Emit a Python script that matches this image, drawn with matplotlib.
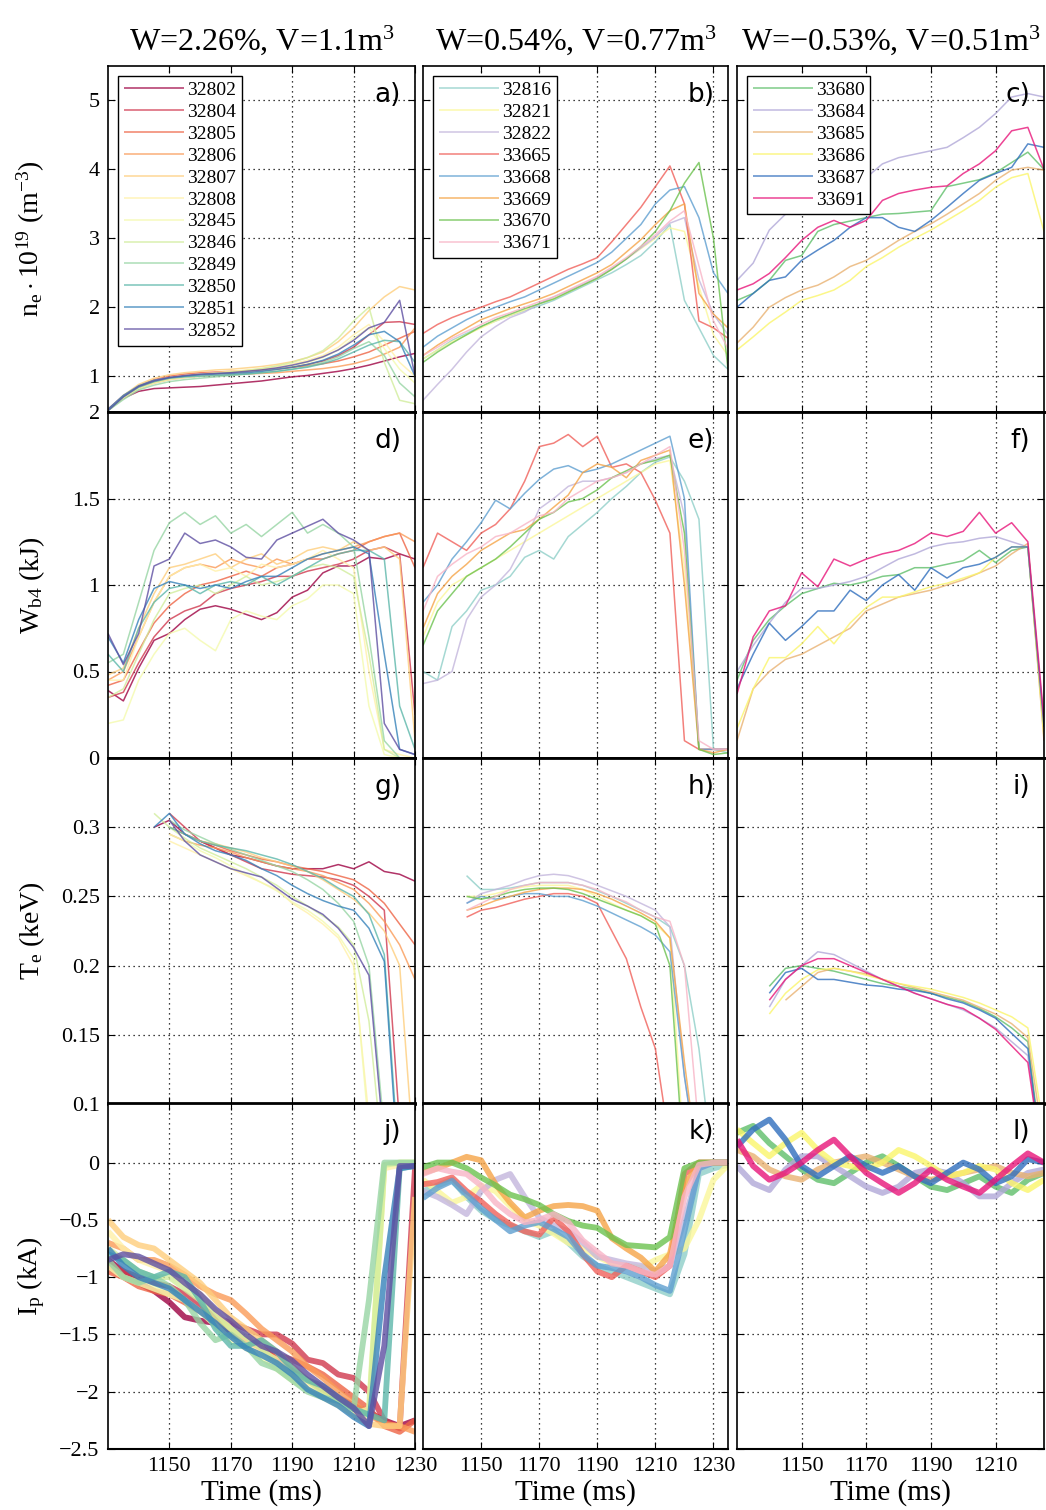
import numpy as np
import matplotlib
matplotlib.use('Agg')
import matplotlib.pyplot as plt

nan = np.nan

# ---------------- data ----------------
T1 = [1130, 1135, 1140, 1145, 1150, 1155, 1160, 1165, 1170, 1175, 1180,
      1185, 1190, 1195, 1200, 1205, 1210, 1215, 1220, 1225, 1230]
T2 = T1 + [1235]
T3 = T1[:-1]

SHOTS_1 = ['32802', '32804', '32805', '32806', '32807', '32808',
           '32845', '32846', '32849', '32850', '32851', '32852']
SHOTS_2 = ['32816', '32821', '32822', '33665', '33668', '33669', '33670', '33671']
SHOTS_3 = ['33680', '33684', '33685', '33686', '33687', '33691']

TITLES = ['W=2.26%, V=1.1m$^3$', 'W=0.54%, V=0.77m$^3$', 'W=\u22120.53%, V=0.51m$^3$']

# column 1: density, Wb4, Te, Ip
NE_1 = [
    [0.52, 0.68, 0.78, 0.82, 0.83, 0.84, 0.85, 0.87, 0.89, 0.91, 0.93, 0.96, 0.99, 1.01, 1.04, 1.07, 1.11, 1.16, 1.22, 1.28, 1.33],
    [0.52, 0.72, 0.85, 0.92, 0.97, 1.00, 1.02, 1.03, 1.05, 1.06, 1.08, 1.10, 1.13, 1.17, 1.22, 1.30, 1.42, 1.60, 1.78, 1.79, 1.75],
    [0.50, 0.70, 0.86, 0.95, 1.00, 1.03, 1.05, 1.06, 1.07, 1.08, 1.09, 1.11, 1.13, 1.15, 1.18, 1.22, 1.28, 1.35, 1.45, 1.55, 1.65],
    [0.50, 0.68, 0.82, 0.90, 0.95, 0.98, 1.00, 1.01, 1.02, 1.03, 1.04, 1.05, 1.07, 1.09, 1.11, 1.14, 1.18, 1.24, 1.32, 1.42, 1.70],
    [0.50, 0.72, 0.88, 0.97, 1.02, 1.05, 1.07, 1.09, 1.10, 1.12, 1.14, 1.17, 1.21, 1.27, 1.35, 1.50, 1.70, 1.95, 2.15, 2.30, 2.25],
    [0.50, 0.70, 0.85, 0.93, 0.98, 1.01, 1.03, 1.05, 1.07, 1.09, 1.11, 1.14, 1.18, 1.23, 1.30, 1.42, 1.60, 1.75, 1.50, 1.20, 1.00],
    [0.50, 0.68, 0.82, 0.90, 0.95, 0.98, 1.00, 1.02, 1.04, 1.06, 1.08, 1.11, 1.15, 1.20, 1.27, 1.38, 1.55, 1.70, 1.40, 1.10, 0.90],
    [0.50, 0.70, 0.84, 0.92, 0.97, 1.00, 1.02, 1.04, 1.06, 1.08, 1.11, 1.15, 1.20, 1.27, 1.37, 1.55, 1.80, 2.00, 1.20, 0.65, 0.60],
    [0.50, 0.66, 0.80, 0.87, 0.92, 0.95, 0.97, 0.99, 1.01, 1.03, 1.05, 1.07, 1.10, 1.14, 1.20, 1.28, 1.40, 1.50, 1.30, 0.90, 0.70],
    [0.50, 0.70, 0.84, 0.92, 0.97, 0.99, 1.00, 1.01, 1.02, 1.03, 1.05, 1.07, 1.10, 1.13, 1.18, 1.25, 1.35, 1.45, 1.52, 1.50, 1.20],
    [0.52, 0.72, 0.86, 0.94, 0.98, 1.00, 1.02, 1.03, 1.04, 1.05, 1.07, 1.10, 1.13, 1.17, 1.23, 1.32, 1.45, 1.60, 1.65, 1.50, 1.00],
    [0.50, 0.70, 0.85, 0.93, 0.98, 1.01, 1.03, 1.04, 1.05, 1.07, 1.09, 1.12, 1.16, 1.21, 1.28, 1.38, 1.52, 1.70, 1.78, 2.10, 1.00],
]
WB_1 = [
    [0.39, 0.33, 0.52, 0.68, 0.72, 0.80, 0.86, 0.88, 0.86, 0.83, 0.80, 0.84, 0.93, 0.97, 1.07, 1.11, 1.11, 1.16, 1.15, 1.18, 1.15],
    [0.35, 0.38, 0.55, 0.70, 0.80, 0.85, 0.88, 0.95, 0.98, 1.00, 1.02, 1.05, 1.05, 1.08, 1.10, 1.12, 1.15, 1.20, 1.22, 1.18, 0.25],
    [0.42, 0.45, 0.62, 0.78, 0.88, 0.95, 1.00, 1.02, 1.05, 1.08, 1.05, 1.10, 1.12, 1.15, 1.15, 1.18, 1.20, 1.25, 1.28, 1.30, 1.10],
    [0.45, 0.50, 0.70, 0.90, 1.05, 1.10, 1.12, 1.10, 1.15, 1.12, 1.10, 1.15, 1.12, 1.15, 1.18, 1.20, 1.22, 1.25, 1.28, 1.30, 1.25],
    [0.48, 0.52, 0.75, 0.95, 1.10, 1.12, 1.15, 1.18, 1.10, 1.15, 1.18, 1.12, 1.15, 1.20, 1.22, 1.20, 1.25, 1.20, 1.22, 1.15, 0.10],
    [0.45, 0.45, 0.70, 0.90, 1.05, 1.10, 1.12, 1.08, 1.10, 1.05, 1.12, 1.10, 1.12, 1.15, 1.20, 1.15, 1.10, 0.50, 0.05, 0.02, 0.00],
    [0.20, 0.22, 0.45, 0.60, 0.72, 0.75, 0.68, 0.62, 0.80, 0.85, 0.82, 0.80, 0.88, 0.92, 1.00, 1.00, 0.95, 0.30, 0.02, 0.00, 0.00],
    [0.35, 0.40, 0.60, 0.80, 0.95, 0.98, 1.00, 0.95, 1.00, 1.05, 1.00, 1.02, 1.05, 1.10, 1.12, 1.10, 1.05, 0.60, 0.05, 0.00, 0.00],
    [0.55, 0.60, 0.90, 1.20, 1.36, 1.42, 1.35, 1.40, 1.30, 1.35, 1.28, 1.35, 1.42, 1.30, 1.35, 1.30, 1.22, 0.70, 0.10, 0.00, 0.00],
    [0.60, 0.50, 0.75, 0.90, 0.98, 1.00, 0.95, 1.00, 1.02, 1.00, 1.05, 1.00, 1.05, 1.10, 1.15, 1.18, 1.20, 1.20, 1.15, 0.30, 0.05],
    [0.70, 0.55, 0.80, 0.98, 1.02, 1.00, 0.98, 1.00, 0.98, 1.02, 1.05, 1.05, 1.10, 1.15, 1.18, 1.20, 1.22, 1.18, 0.60, 0.05, 0.02],
    [0.72, 0.54, 0.72, 1.11, 1.15, 1.30, 1.24, 1.26, 1.22, 1.16, 1.15, 1.26, 1.30, 1.34, 1.38, 1.30, 1.26, 1.20, 0.20, 0.05, 0.02],
]
TE_1 = [
    [nan, nan, nan, 0.300, 0.305, 0.295, 0.290, 0.285, 0.280, 0.278, 0.275, 0.272, 0.270, 0.270, 0.270, 0.273, 0.270, 0.275, 0.268, 0.266, 0.261],
    [nan, nan, nan, nan, 0.310, 0.300, 0.290, 0.285, 0.280, 0.275, 0.270, 0.268, 0.266, 0.265, 0.264, 0.262, 0.258, 0.250, 0.240, 0.085, nan],
    [nan, nan, nan, nan, 0.300, 0.295, 0.290, 0.287, 0.283, 0.280, 0.277, 0.275, 0.272, 0.270, 0.268, 0.265, 0.262, 0.255, 0.245, 0.230, 0.215],
    [nan, nan, nan, nan, 0.295, 0.290, 0.287, 0.285, 0.282, 0.278, 0.275, 0.272, 0.270, 0.268, 0.265, 0.260, 0.255, 0.245, 0.232, 0.215, 0.190],
    [nan, nan, nan, nan, 0.300, 0.295, 0.290, 0.288, 0.285, 0.282, 0.278, 0.275, 0.272, 0.268, 0.262, 0.255, 0.248, 0.238, 0.225, 0.200, 0.050],
    [nan, nan, nan, nan, 0.290, 0.285, 0.280, 0.275, 0.270, 0.265, 0.260, 0.255, 0.245, 0.238, 0.230, 0.220, 0.200, 0.090, nan, nan, nan],
    [nan, nan, nan, nan, 0.295, 0.290, 0.283, 0.278, 0.272, 0.266, 0.260, 0.254, 0.246, 0.240, 0.232, 0.222, 0.205, 0.080, nan, nan, nan],
    [nan, nan, nan, 0.310, 0.300, 0.292, 0.285, 0.280, 0.275, 0.270, 0.264, 0.258, 0.250, 0.243, 0.236, 0.228, 0.215, 0.160, 0.050, nan, nan],
    [nan, nan, nan, nan, 0.305, 0.298, 0.293, 0.288, 0.284, 0.280, 0.276, 0.272, 0.268, 0.262, 0.255, 0.245, 0.232, 0.200, 0.080, nan, nan],
    [nan, nan, nan, nan, 0.300, 0.295, 0.290, 0.287, 0.285, 0.283, 0.280, 0.277, 0.273, 0.268, 0.263, 0.256, 0.250, 0.237, 0.208, 0.050, nan],
    [nan, nan, nan, 0.300, 0.310, 0.295, 0.288, 0.283, 0.280, 0.276, 0.270, 0.265, 0.258, 0.252, 0.247, 0.243, 0.240, 0.227, 0.203, 0.040, nan],
    [nan, nan, nan, nan, 0.305, 0.290, 0.280, 0.275, 0.270, 0.267, 0.264, 0.256, 0.248, 0.243, 0.237, 0.227, 0.213, 0.193, 0.070, nan, nan],
]
IP_1 = [
    [-0.85, -0.95, -1.05, -1.12, -1.22, -1.35, -1.38, -1.40, -1.50, -1.55, -1.62, -1.72, -1.82, -1.90, -1.98, -2.05, -2.12, -2.18, -2.25, -2.30, -2.25],
    [-0.90, -0.95, -1.00, -1.05, -1.08, -1.15, -1.25, -1.35, -1.40, -1.45, -1.50, -1.50, -1.58, -1.72, -1.75, -1.85, -1.88, -2.00, -2.25, -2.32, -0.05],
    [-0.95, -1.00, -1.08, -1.12, -1.15, -1.22, -1.30, -1.38, -1.45, -1.55, -1.62, -1.68, -1.72, -1.78, -1.85, -1.95, -2.05, -2.15, -2.30, -2.35, -2.25],
    [-0.70, -0.75, -0.85, -0.85, -0.90, -0.98, -1.08, -1.15, -1.20, -1.32, -1.45, -1.55, -1.65, -1.78, -1.88, -2.00, -2.10, -2.20, -2.28, -2.30, -2.35],
    [-0.50, -0.65, -0.72, -0.75, -0.85, -0.95, -1.05, -1.20, -1.35, -1.45, -1.55, -1.65, -1.78, -1.90, -2.00, -2.10, -2.20, -2.28, -2.30, -2.30, -0.30],
    [-0.60, -0.75, -0.85, -0.90, -0.95, -1.05, -1.15, -1.30, -1.45, -1.55, -1.65, -1.72, -1.85, -1.95, -2.05, -2.10, -2.18, -2.25, -0.05, -0.02, -0.02],
    [-0.90, -1.00, -1.05, -1.10, -1.15, -1.20, -1.30, -1.42, -1.55, -1.62, -1.70, -1.80, -1.90, -1.98, -2.05, -2.12, -2.20, -2.15, -0.03, 0.00, 0.00],
    [-0.75, -0.85, -0.95, -1.00, -1.00, -1.10, -1.20, -1.35, -1.45, -1.52, -1.62, -1.75, -1.85, -1.90, -2.00, -2.05, -2.15, -2.20, -0.02, 0.00, 0.00],
    [-0.85, -1.00, -1.05, -1.00, -1.08, -1.20, -1.40, -1.55, -1.50, -1.60, -1.75, -1.80, -1.90, -2.00, -2.05, -2.08, -2.15, -1.20, 0.00, 0.00, 0.00],
    [-0.80, -0.85, -0.95, -1.00, -0.95, -1.00, -1.20, -1.45, -1.60, -1.60, -1.55, -1.65, -1.80, -1.90, -1.95, -2.05, -2.15, -2.20, -2.25, -0.05, -0.03],
    [-0.75, -0.90, -1.00, -1.05, -1.10, -1.20, -1.30, -1.40, -1.52, -1.62, -1.68, -1.75, -1.85, -1.98, -2.05, -2.12, -2.22, -2.30, -1.00, -0.05, -0.03],
    [-0.85, -0.80, -0.82, -0.88, -0.94, -1.05, -1.15, -1.28, -1.38, -1.50, -1.60, -1.65, -1.73, -1.85, -1.95, -2.05, -2.14, -2.30, -1.60, -0.03, -0.03],
]

# column 2
NE_2 = [
    [1.25, 1.38, 1.52, 1.62, 1.72, 1.80, 1.88, 1.95, 2.02, 2.10, 2.20, 2.30, 2.40, 2.50, 2.62, 2.75, 2.95, 3.20, 2.10, 1.70, 1.30, 1.10],
    [1.25, 1.38, 1.50, 1.60, 1.70, 1.80, 1.88, 1.96, 2.05, 2.12, 2.22, 2.32, 2.42, 2.55, 2.70, 2.85, 3.00, 3.15, 3.10, 2.30, 1.60, 1.30],
    [0.65, 0.88, 1.10, 1.35, 1.57, 1.72, 1.85, 1.93, 2.05, 2.15, 2.24, 2.33, 2.43, 2.56, 2.70, 2.86, 3.02, 3.22, 3.30, 2.40, 1.90, 1.60],
    [1.62, 1.75, 1.85, 1.93, 2.00, 2.08, 2.15, 2.25, 2.35, 2.45, 2.55, 2.63, 2.72, 2.95, 3.20, 3.45, 3.75, 4.05, 3.50, 1.80, 1.70, 1.55],
    [1.42, 1.58, 1.70, 1.82, 1.92, 2.00, 2.08, 2.15, 2.25, 2.35, 2.45, 2.55, 2.65, 2.80, 3.00, 3.20, 3.50, 3.70, 3.75, 3.30, 2.50, 2.20],
    [1.30, 1.45, 1.58, 1.70, 1.82, 1.90, 1.98, 2.05, 2.12, 2.20, 2.30, 2.40, 2.50, 2.62, 2.80, 2.98, 3.20, 3.40, 3.50, 2.20, 1.90, 1.70],
    [1.20, 1.35, 1.48, 1.60, 1.72, 1.82, 1.90, 1.98, 2.05, 2.12, 2.22, 2.32, 2.42, 2.55, 2.70, 2.88, 3.10, 3.40, 3.80, 4.10, 3.00, 1.10],
    [1.30, 1.42, 1.55, 1.65, 1.75, 1.85, 1.92, 2.00, 2.08, 2.15, 2.25, 2.35, 2.45, 2.58, 2.72, 2.88, 3.05, 3.25, 3.40, 2.60, 1.80, 1.40],
]
WB_2 = [
    [0.50, 0.45, 0.76, 0.85, 0.97, 1.00, 1.05, 1.16, 1.20, 1.15, 1.28, 1.35, 1.42, 1.50, 1.57, 1.65, 1.71, 1.74, 1.60, 1.38, 0.05, 0.03],
    [0.70, 0.90, 1.00, 1.05, 1.10, 1.15, 1.20, 1.25, 1.30, 1.35, 1.40, 1.45, 1.50, 1.55, 1.60, 1.65, 1.70, 1.72, 1.10, 0.05, 0.05, 0.05],
    [0.43, 0.45, 0.50, 0.80, 0.93, 1.00, 1.09, 1.25, 1.44, 1.50, 1.57, 1.60, 1.60, 1.62, 1.65, 1.70, 1.73, 1.75, 1.40, 0.05, 0.05, 0.05],
    [1.10, 1.30, 1.25, 1.20, 1.30, 1.35, 1.44, 1.60, 1.80, 1.82, 1.87, 1.80, 1.86, 1.68, 1.70, 1.65, 1.49, 1.30, 0.10, 0.05, 0.05, 0.05],
    [0.90, 1.00, 1.15, 1.25, 1.36, 1.49, 1.44, 1.53, 1.61, 1.67, 1.69, 1.65, 1.67, 1.70, 1.74, 1.78, 1.82, 1.86, 1.50, 0.05, 0.05, 0.05],
    [0.75, 0.95, 1.05, 1.12, 1.20, 1.25, 1.30, 1.32, 1.38, 1.45, 1.52, 1.65, 1.70, 1.68, 1.62, 1.72, 1.75, 1.78, 1.00, 0.05, 0.03, 0.05],
    [0.65, 0.85, 0.95, 1.05, 1.10, 1.15, 1.22, 1.30, 1.38, 1.42, 1.48, 1.50, 1.55, 1.62, 1.66, 1.70, 1.72, 1.75, 1.30, 0.05, 0.02, 0.03],
    [0.85, 1.05, 1.12, 1.18, 1.22, 1.28, 1.30, 1.35, 1.40, 1.42, 1.50, 1.55, 1.60, 1.62, 1.65, 1.70, 1.75, 1.80, 1.20, 0.10, 0.05, 0.05],
]
TE_2 = [
    [nan, nan, nan, 0.265, 0.255, 0.255, 0.256, 0.258, 0.260, 0.260, 0.260, 0.258, 0.254, 0.250, 0.245, 0.240, 0.235, 0.228, 0.200, 0.140, 0.050, nan],
    [nan, nan, nan, 0.250, 0.250, 0.252, 0.255, 0.257, 0.258, 0.258, 0.258, 0.255, 0.250, 0.245, 0.240, 0.236, 0.230, 0.220, 0.060, nan, nan, nan],
    [nan, nan, nan, 0.245, 0.252, 0.255, 0.258, 0.262, 0.265, 0.266, 0.265, 0.262, 0.258, 0.254, 0.250, 0.245, 0.240, 0.228, 0.120, 0.050, nan, nan],
    [nan, nan, nan, 0.235, 0.240, 0.242, 0.245, 0.248, 0.250, 0.252, 0.252, 0.250, 0.245, 0.225, 0.205, 0.170, 0.140, 0.070, nan, nan, nan, nan],
    [nan, nan, nan, 0.245, 0.250, 0.248, 0.250, 0.252, 0.252, 0.250, 0.250, 0.247, 0.243, 0.238, 0.233, 0.228, 0.222, 0.210, 0.120, 0.050, nan, nan],
    [nan, nan, nan, 0.240, 0.243, 0.247, 0.250, 0.253, 0.255, 0.256, 0.256, 0.255, 0.252, 0.248, 0.243, 0.238, 0.232, 0.220, 0.130, 0.050, nan, nan],
    [nan, nan, nan, 0.250, 0.248, 0.250, 0.253, 0.255, 0.256, 0.256, 0.255, 0.252, 0.248, 0.244, 0.240, 0.236, 0.230, 0.200, 0.050, nan, nan, nan],
    [nan, nan, nan, 0.240, 0.245, 0.250, 0.255, 0.258, 0.260, 0.260, 0.260, 0.258, 0.255, 0.250, 0.246, 0.240, 0.235, 0.232, 0.200, 0.080, nan, nan],
]
IP_2 = [
    [-0.25, -0.20, -0.15, -0.30, -0.42, -0.50, -0.55, -0.60, -0.65, -0.60, -0.70, -0.82, -0.90, -0.95, -1.00, -1.05, -1.10, -1.15, -0.80, -0.10, -0.05, -0.02],
    [-0.15, -0.25, -0.35, -0.30, -0.20, -0.25, -0.38, -0.50, -0.55, -0.62, -0.70, -0.75, -0.82, -0.88, -0.90, -0.92, -0.85, -0.80, -0.75, -0.50, -0.15, -0.02],
    [-0.25, -0.30, -0.37, -0.45, -0.25, -0.15, -0.10, -0.30, -0.48, -0.55, -0.60, -0.70, -0.82, -0.85, -0.88, -0.90, -0.95, -0.90, -0.50, -0.05, 0.00, 0.00],
    [-0.19, -0.17, -0.13, -0.25, -0.34, -0.45, -0.54, -0.60, -0.63, -0.48, -0.60, -0.80, -0.95, -1.00, -0.90, -0.95, -1.00, -0.90, -0.10, 0.00, 0.00, 0.00],
    [-0.31, -0.22, -0.16, -0.28, -0.40, -0.50, -0.60, -0.55, -0.52, -0.58, -0.65, -0.80, -0.90, -0.92, -0.95, -1.00, -1.07, -1.12, -0.60, -0.05, 0.00, 0.00],
    [-0.09, -0.05, 0.00, 0.05, 0.02, -0.19, -0.35, -0.48, -0.42, -0.38, -0.37, -0.38, -0.42, -0.66, -0.75, -0.83, -0.95, -0.80, -0.20, 0.00, 0.00, 0.00],
    [-0.04, 0.00, 0.00, -0.05, -0.13, -0.20, -0.28, -0.32, -0.37, -0.45, -0.51, -0.55, -0.57, -0.65, -0.72, -0.73, -0.74, -0.65, -0.05, 0.00, 0.00, 0.00],
    [-0.10, -0.05, -0.08, -0.10, -0.20, -0.35, -0.45, -0.52, -0.50, -0.45, -0.52, -0.68, -0.78, -0.88, -0.90, -0.95, -0.98, -0.90, -0.30, -0.02, 0.00, 0.00],
]

# column 3
NE_3 = [
    [2.10, 2.20, 2.39, 2.68, 2.75, 3.10, 3.20, 3.25, 3.30, 3.35, 3.36, 3.38, 3.40, 3.75, 3.80, 3.85, 3.95, 4.10, 4.25, 4.00],
    [2.39, 2.64, 3.12, 3.35, 3.55, 3.65, 3.74, 3.80, 3.88, 4.08, 4.17, 4.22, 4.27, 4.32, 4.46, 4.61, 4.81, 5.05, 5.10, 5.05],
    [1.48, 1.71, 2.00, 2.14, 2.25, 2.32, 2.44, 2.59, 2.68, 2.82, 2.97, 3.10, 3.21, 3.35, 3.50, 3.65, 3.84, 3.99, 4.03, 3.99],
    [1.38, 1.57, 1.77, 1.93, 2.10, 2.17, 2.25, 2.39, 2.59, 2.72, 2.87, 3.00, 3.12, 3.26, 3.40, 3.55, 3.74, 3.88, 3.94, 3.10],
    [2.00, 2.20, 2.39, 2.44, 2.68, 2.83, 2.97, 3.16, 3.30, 3.30, 3.16, 3.10, 3.26, 3.45, 3.65, 3.84, 3.94, 4.03, 4.37, 4.32],
    [2.25, 2.34, 2.49, 2.72, 2.97, 3.16, 3.26, 3.16, 3.26, 3.55, 3.65, 3.70, 3.74, 3.76, 3.94, 4.08, 4.27, 4.56, 4.61, 4.00],
]
WB_3 = [
    [0.45, 0.68, 0.80, 0.88, 0.95, 0.98, 1.01, 1.00, 1.02, 1.05, 1.06, 1.10, 1.10, 1.12, 1.14, 1.20, 1.13, 1.20, 1.22, 0.15],
    [0.50, 0.65, 0.78, 0.90, 0.98, 0.98, 1.00, 1.02, 1.05, 1.10, 1.15, 1.18, 1.22, 1.24, 1.25, 1.27, 1.28, 1.25, 1.22, 0.20],
    [0.10, 0.40, 0.50, 0.57, 0.60, 0.65, 0.70, 0.75, 0.85, 0.89, 0.93, 0.95, 0.97, 1.00, 1.03, 1.07, 1.11, 1.18, 1.24, 0.10],
    [0.17, 0.40, 0.58, 0.58, 0.66, 0.76, 0.66, 0.78, 0.87, 0.93, 0.93, 0.96, 0.99, 1.01, 1.04, 1.07, 1.16, 1.22, 1.22, 0.12],
    [0.40, 0.60, 0.78, 0.68, 0.76, 0.85, 0.85, 0.97, 0.91, 1.00, 1.06, 0.97, 1.10, 1.04, 1.10, 1.12, 1.16, 1.22, 1.22, 0.18],
    [0.37, 0.70, 0.85, 0.88, 1.07, 0.99, 1.15, 1.11, 1.15, 1.18, 1.20, 1.24, 1.30, 1.28, 1.31, 1.42, 1.30, 1.36, 1.25, 0.22],
]
TE_3 = [
    [nan, nan, 0.185, 0.198, 0.200, 0.198, 0.196, 0.193, 0.190, 0.187, 0.185, 0.183, 0.180, 0.177, 0.174, 0.169, 0.163, 0.155, 0.145, 0.050],
    [nan, nan, 0.170, 0.190, 0.200, 0.210, 0.208, 0.202, 0.196, 0.190, 0.185, 0.180, 0.176, 0.172, 0.168, 0.162, 0.155, 0.145, 0.135, 0.050],
    [nan, nan, nan, 0.175, 0.185, 0.195, 0.198, 0.196, 0.194, 0.190, 0.187, 0.184, 0.181, 0.178, 0.175, 0.170, 0.165, 0.158, 0.148, 0.070],
    [nan, nan, 0.165, 0.180, 0.190, 0.197, 0.198, 0.196, 0.193, 0.190, 0.187, 0.185, 0.183, 0.180, 0.177, 0.173, 0.168, 0.163, 0.155, 0.080],
    [nan, nan, 0.180, 0.195, 0.198, 0.190, 0.190, 0.188, 0.186, 0.185, 0.183, 0.182, 0.180, 0.176, 0.173, 0.168, 0.162, 0.151, 0.140, 0.050],
    [nan, nan, 0.175, 0.190, 0.200, 0.205, 0.205, 0.200, 0.195, 0.190, 0.185, 0.180, 0.176, 0.172, 0.169, 0.162, 0.154, 0.142, 0.130, 0.050],
]
IP_3 = [
    [0.26, 0.32, 0.17, 0.055, -0.06, -0.15, -0.18, -0.09, 0.00, 0.055, -0.03, -0.12, -0.21, -0.24, -0.18, -0.12, -0.21, -0.265, -0.15, -0.09],
    [-0.03, -0.18, -0.24, -0.06, 0.055, 0.055, -0.03, -0.12, -0.21, -0.265, -0.21, -0.09, -0.06, -0.09, -0.18, -0.295, -0.295, -0.18, -0.09, -0.06],
    [0.11, 0.055, -0.06, -0.12, -0.15, -0.06, 0.00, 0.03, 0.055, 0.00, -0.06, -0.12, -0.15, -0.12, -0.09, -0.06, -0.03, -0.09, -0.12, -0.09],
    [0.29, 0.17, 0.055, 0.17, 0.26, 0.11, 0.00, -0.03, -0.06, 0.00, 0.11, 0.055, -0.03, -0.12, -0.09, -0.03, -0.06, -0.18, -0.24, -0.15],
    [0.14, 0.29, 0.375, 0.20, -0.03, -0.12, -0.03, 0.055, -0.03, -0.09, -0.03, -0.12, -0.18, -0.09, 0.00, -0.06, -0.18, -0.12, 0.03, 0.00],
    [0.20, -0.03, -0.15, -0.09, 0.00, 0.11, 0.20, 0.055, -0.09, -0.18, -0.265, -0.18, -0.06, -0.15, -0.21, -0.265, -0.15, -0.03, 0.08, 0.00],
]

# ---------------- style ----------------
COLORS_1 = plt.cm.Spectral(np.linspace(0, 1, 12))
COLORS_2 = ['#8fcfc8', '#fbf79a', '#c3b6dc', '#f0605a', '#5f9fd0', '#f5a447', '#6cc24f', '#f8b4c6']
COLORS_3 = ['#5fbf6a', '#b1a8d8', '#e9b272', '#fbf56a', '#2f6ebd', '#e8157a']

plt.rcParams['font.family'] = ['Liberation Serif', 'DejaVu Serif']
plt.rcParams['mathtext.fontset'] = 'custom'
plt.rcParams['mathtext.rm'] = 'Liberation Serif'
plt.rcParams['mathtext.it'] = 'Liberation Serif:italic'

W, H = 1046, 1510
col_left = [108, 423, 737]
col_width = [307, 305, 307]
row_top = [66, 412, 758, 1103]
row_h = 346

YLABELS = [r'n$_\mathrm{e}\cdot$10$^{19}$ (m$^{-3}$)', r'W$_\mathrm{b4}$ (kJ)',
           r'T$_\mathrm{e}$ (keV)', r'I$_\mathrm{p}$ (kA)']
YLIMS = [(0.48, 5.5), (0, 2), (0.1, 0.35), (-2.5, 0.52)]
YTICKS = [[1, 2, 3, 4, 5], [0, 0.5, 1, 1.5, 2],
          [0.1, 0.15, 0.2, 0.25, 0.3], [-2.5, -2, -1.5, -1, -0.5, 0]]
YTICKLABELS = [['1', '2', '3', '4', '5'], ['0', '0.5', '1', '1.5', '2'],
               ['0.1', '0.15', '0.2', '0.25', '0.3'],
               ['\u22122.5', '\u22122', '\u22121.5', '\u22121', '\u22120.5', '0']]
XLIMS = [(1130, 1230), (1130, 1235), (1130, 1225)]
XTICKS = [[1150, 1170, 1190, 1210, 1230], [1150, 1170, 1190, 1210, 1230],
          [1150, 1170, 1190, 1210]]
LETTERS = 'abcdefghijkl'

columns = [
    (T1, SHOTS_1, COLORS_1, [NE_1, WB_1, TE_1, IP_1]),
    (T2, SHOTS_2, COLORS_2, [NE_2, WB_2, TE_2, IP_2]),
    (T3, SHOTS_3, COLORS_3, [NE_3, WB_3, TE_3, IP_3]),
]

fig = plt.figure(figsize=(W / 100, H / 100), dpi=100)

for c, (t, shots, colors, panels) in enumerate(columns):
    for r in range(4):
        rect = [col_left[c] / W, 1 - (row_top[r] + row_h) / H, col_width[c] / W, row_h / H]
        ax = fig.add_axes(rect)
        lw = 4.2 if r == 3 else 1.1
        for k, shot in enumerate(shots):
            ax.plot(t, panels[r][k], '-', color=colors[k], lw=lw, alpha=0.8,
                    label=shot, solid_capstyle='butt')
        ax.set_xlim(XLIMS[c])
        ax.set_ylim(YLIMS[r])
        ax.set_xticks(XTICKS[c])
        ax.set_yticks(YTICKS[r])
        ax.grid(True, color='black', linestyle=(0, (1, 3)), lw=0.9)
        ax.tick_params(direction='in', top=True, right=True, length=5,
                       labelsize=16, pad=6)
        for side in ['left', 'right']:
            ax.spines[side].set_linewidth(1.2)
        ax.spines['top'].set_linewidth(1.2 if r == 0 else 2.0)
        ax.spines['bottom'].set_linewidth(2.0 if r < 3 else 1.5)

        if c == 0:
            ax.set_yticklabels(YTICKLABELS[r])
            ax.set_ylabel(YLABELS[r], fontsize=20)
            ax.yaxis.set_label_coords(-0.2, 0.5)
        else:
            ax.set_yticklabels([])
        if r == 3:
            ax.set_xticklabels([str(v) for v in XTICKS[c]])
            ax.set_xlabel('Time (ms)', fontsize=21, labelpad=2)
        else:
            ax.set_xticklabels([])
        if r == 0:
            ax.set_title(TITLES[c], fontsize=23, pad=12)
            leg = ax.legend(loc='upper left', fontsize=14, labelspacing=0.22,
                            handlelength=3.1, handletextpad=0.15, borderpad=0.3,
                            borderaxespad=0.5, fancybox=False, framealpha=1)
            leg.get_frame().set_edgecolor('black')
            leg.get_frame().set_linewidth(1.0)
            for line in leg.get_lines():
                line.set_linewidth(1.1)

        ax.text(0.955, 0.955, LETTERS[r * 3 + c] + ')', transform=ax.transAxes,
                ha='right', va='top', fontsize=19, family='DejaVu Sans')

fig.savefig('out.png', dpi=100)
